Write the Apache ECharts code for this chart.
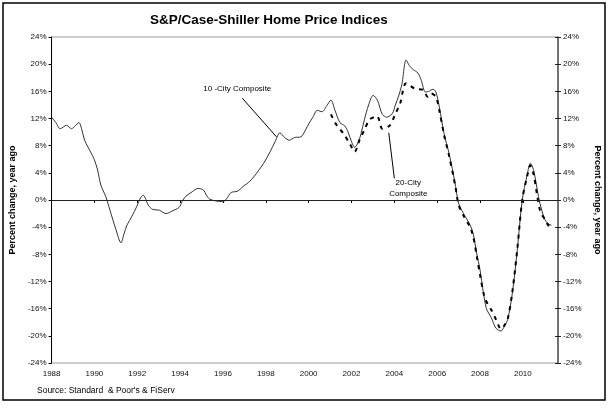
<!DOCTYPE html>
<html><head><meta charset="utf-8">
<script src="https://cdn.jsdelivr.net/npm/echarts@6/dist/echarts.min.js"></script>
<style>html,body{margin:0;padding:0;background:#fff}#c{width:610px;height:408px}</style>
</head><body><div id="c"></div>
<script>
// ---- data (decimal years, percent change year ago) ----
const tenCityYears = [1988.0,1988.2,1988.4,1988.7,1988.93,1989.1,1989.28,1989.4,1989.54,1989.7,1989.85,1990.0,1990.15,1990.3,1990.53,1990.68,1990.85,1991.0,1991.24,1991.38,1991.52,1991.75,1991.97,1992.15,1992.28,1992.4,1992.5,1992.73,1993.03,1993.34,1993.64,1993.95,1994.1,1994.25,1994.56,1994.83,1995.08,1995.25,1995.39,1995.7,1996.0,1996.15,1996.38,1996.68,1996.98,1997.2,1997.44,1997.65,1997.9,1998.2,1998.45,1998.66,1998.88,1999.1,1999.34,1999.64,1999.85,2000.02,2000.2,2000.4,2000.63,2000.85,2001.04,2001.23,2001.46,2001.69,2001.84,2002.0,2002.15,2002.3,2002.45,2002.6,2002.8,2003.01,2003.21,2003.44,2003.64,2003.9,2004.05,2004.2,2004.35,2004.55,2004.7,2004.88,2005.1,2005.26,2005.45,2005.6,2005.8,2005.94,2006.1,2006.32,2006.55,2006.75,2006.86,2007.0,2007.23,2007.54,2007.69,2007.84,2008.0,2008.15,2008.3,2008.52,2008.75,2008.98,2009.13,2009.29,2009.51,2009.74,2009.97,2010.2,2010.35,2010.5,2010.73,2010.88,2011.03,2011.18,2011.33];
const tenCityValues = [12.2,11.4,10.5,11.0,10.5,10.9,11.4,10.5,8.8,7.8,6.9,5.9,4.4,2.2,0.5,-1.0,-2.8,-4.3,-6.3,-5.0,-3.7,-2.4,-1.0,0.3,0.7,0.1,-0.7,-1.4,-1.5,-2.0,-1.6,-1.1,-0.2,0.5,1.2,1.7,1.5,0.6,0.1,-0.15,-0.25,0.1,1.1,1.3,2.1,2.6,3.4,4.3,5.4,7.1,8.7,9.9,9.2,8.8,9.2,9.3,10.3,11.3,12.2,13.2,13.0,13.9,14.7,13.2,11.4,10.9,10.0,8.6,7.75,8.4,9.8,11.8,14.0,15.4,14.7,12.6,12.2,12.7,14.0,15.3,17.0,20.6,19.8,19.2,18.7,17.6,15.9,16.0,16.3,15.9,13.7,9.8,6.9,3.9,2.0,-0.5,-2.0,-3.7,-5.1,-7.8,-10.3,-13.5,-16.0,-17.3,-18.9,-19.3,-18.6,-17.6,-13.7,-7.35,0.0,3.7,5.4,4.4,0.5,-1.5,-2.9,-3.5,-3.7];
const twentyCityYears = [2001.04,2001.31,2001.62,2001.92,2002.15,2002.37,2002.6,2002.83,2003.05,2003.2,2003.44,2003.79,2004.05,2004.27,2004.55,2004.95,2005.34,2005.56,2005.72,2005.94,2006.1,2006.32,2006.55,2006.75,2006.86,2007.0,2007.23,2007.54,2007.69,2007.85,2008.0,2008.23,2008.53,2008.75,2008.98,2009.13,2009.3,2009.51,2009.74,2009.97,2010.2,2010.35,2010.5,2010.65,2010.8,2011.03,2011.18,2011.33];
const twentyCityValues = [12.6,11.0,9.8,8.3,7.1,8.8,10.3,11.8,12.2,12.35,10.5,11.0,12.7,14.2,17.2,16.4,16.2,15.2,15.7,15.2,13.2,9.6,6.6,3.6,1.8,-0.7,-2.3,-4.0,-5.5,-8.3,-11.0,-14.5,-16.2,-17.6,-19.0,-18.5,-17.4,-13.5,-7.2,0.0,3.5,5.1,3.8,1.0,-1.5,-2.9,-3.7,-4.4];
const xStart = 1988, xEnd = 2011.64, xStep = 2;
const yMin = -24, yMax = 24, yStep = 4;
const titleText = 'S&P/Case-Shiller Home Price Indices';
const axisName = 'Percent change, year ago';
const sourceText = 'Source: Standard  & Poor\'s & FiServ';
const label10 = '10 -City Composite';
const label20 = ['20-City', 'Composite'];

const FONT = '"Liberation Sans", Arial, sans-serif';
const chart = echarts.init(document.getElementById('c'), null, {renderer: 'canvas'});
const pairs = (xs, ys) => xs.map((x, i) => [x, ys[i]]);

const yAxisBase = {
  type: 'value', min: yMin, max: yMax, interval: yStep,
  splitLine: {show: false},
  axisLabel: {formatter: '{value}%', fontSize: 8, color: '#111', fontFamily: FONT, margin: 5},
  nameLocation: 'middle',
  nameTextStyle: {fontSize: 9, fontWeight: 'bold', color: '#000', fontFamily: FONT}
};

chart.setOption({
  animation: false,
  backgroundColor: '#fff',
  grid: {left: 43, right: 48, top: 37, bottom: 45, show: true, borderColor: '#999', borderWidth: 1},
  xAxis: {
    type: 'value', min: xStart, max: xEnd, interval: xStep,
    splitLine: {show: false},
    axisLine: {lineStyle: {color: '#000', width: 1}},
    axisTick: {length: 3, lineStyle: {color: '#000'}},
    axisLabel: {fontSize: 8, color: '#111', fontFamily: FONT, margin: 7, showMaxLabel: false,
      formatter: v => Number.isInteger(v) ? String(v) : ''}
  },
  yAxis: [
    Object.assign({}, yAxisBase, {position: 'left', name: axisName, nameGap: 33, nameRotate: 90,
      axisLine: {show: true, lineStyle: {color: '#000', width: 1}},
      axisTick: {show: true, length: 3, lineStyle: {color: '#000'}}}),
    Object.assign({}, yAxisBase, {position: 'right', name: axisName, nameGap: 35, nameRotate: -90,
      axisLine: {show: true, lineStyle: {color: '#555', width: 1.5}},
      axisTick: {show: true, length: 3, lineStyle: {color: '#222'}}}),
    Object.assign({}, yAxisBase, {position: 'right', name: '',
      axisLine: {show: false}, axisLabel: {show: false},
      axisTick: {show: true, inside: true, length: 3, lineStyle: {color: '#222'}}})
  ],
  series: [
    {name: '10-City Composite', type: 'line', yAxisIndex: 0, data: pairs(tenCityYears, tenCityValues),
      showSymbol: false, smooth: 0.3, lineStyle: {color: '#333', width: 1},
      markLine: {silent: true, symbol: ['none', 'none'], label: {show: false},
        lineStyle: {color: '#222', width: 1, type: 'solid'}, data: [{yAxis: 0}]}},
    {name: '20-City Composite', type: 'line', yAxisIndex: 0, data: pairs(twentyCityYears, twentyCityValues),
      showSymbol: false, smooth: 0.3, lineStyle: {color: '#000', width: 2, type: [4, 5]}}
  ]
});

const px = (x, y) => chart.convertToPixel({gridIndex: 0}, [x, y]);
const a1s = px(1996.9, 15.0), a1e = px(1998.5, 9.3);
const a2s = px(2003.74, 9.9), a2e = px(2004.0, 3.2);
const t10 = px(1996.67, 16.3);
const t20 = px(2004.65, 3.3);

chart.setOption({
  graphic: [
    {type: 'rect', shape: {x: 3, y: 3, width: 602, height: 397}, style: {fill: 'none', stroke: '#000', lineWidth: 1.5}, silent: true},
    {type: 'text', left: 150, top: 13, style: {text: titleText, fontSize: 13.5, fontWeight: 'bold', fill: '#000', fontFamily: FONT}},
    {type: 'text', left: 37, top: 386, style: {text: sourceText, fontSize: 8.5, fill: '#000', fontFamily: FONT}},
    {type: 'text', x: t10[0], y: t10[1], style: {text: label10, fontSize: 8, fill: '#000', fontFamily: FONT, align: 'center', verticalAlign: 'middle'}},
    {type: 'text', x: t20[0], y: t20[1], style: {text: label20.join('\n'), fontSize: 8, lineHeight: 11, fill: '#000', fontFamily: FONT, align: 'center', verticalAlign: 'top'}},
    {type: 'line', shape: {x1: a1s[0], y1: a1s[1], x2: a1e[0], y2: a1e[1]}, style: {stroke: '#000', lineWidth: 1}},
    {type: 'line', shape: {x1: a2s[0], y1: a2s[1], x2: a2e[0], y2: a2e[1]}, style: {stroke: '#000', lineWidth: 1}}
  ]
});
</script>
</body></html>
